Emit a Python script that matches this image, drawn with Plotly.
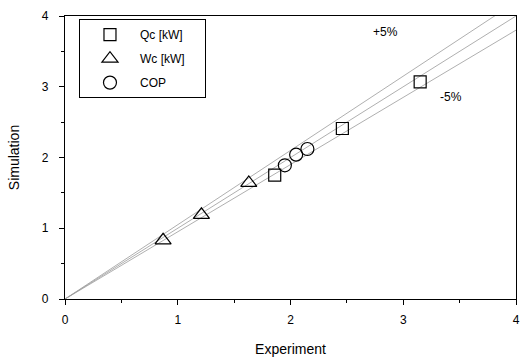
import plotly.graph_objects as go

# Data
qc_exp = [1.86, 2.46, 3.15]
qc_sim = [1.75, 2.41, 3.07]
wc_exp = [0.87, 1.21, 1.63]
wc_sim = [0.83, 1.19, 1.64]
cop_exp = [1.95, 2.05, 2.15]
cop_sim = [1.89, 2.04, 2.12]

line_x = [0, 4]
ratios = [1.05, 1.0, 0.95]

fig = go.Figure()
for r in ratios:
    fig.add_trace(go.Scatter(x=line_x, y=[v * r for v in line_x], mode="lines",
                             line=dict(color="#9a9a9a", width=0.8),
                             showlegend=False, hoverinfo="skip"))

mk = dict(color="black", line=dict(color="black", width=1.2))
fig.add_trace(go.Scatter(x=qc_exp, y=qc_sim, mode="markers", name="Qc [kW]\u00a0\u00a0\u00a0\u00a0\u00a0",
                         legendgroup="a",
                         marker=dict(mk, symbol="square-open", size=12)))
fig.add_trace(go.Scatter(x=wc_exp, y=wc_sim, mode="markers", name="Wc [kW]",
                         legendgroup="b",
                         marker=dict(mk, symbol="triangle-up-open", size=14)))
fig.add_trace(go.Scatter(x=cop_exp, y=cop_sim, mode="markers", name="COP",
                         legendgroup="c",
                         marker=dict(mk, symbol="circle-open", size=13)))

fig.add_annotation(x=2.84, y=3.77, text="+5%", showarrow=False,
                   font=dict(size=12, color="black"))
fig.add_annotation(x=3.42, y=2.86, text="-5%", showarrow=False,
                   font=dict(size=12, color="black"))

axis_common = dict(range=[0, 4], dtick=1, showline=True, linecolor="black",
                   linewidth=1.2, mirror=True, ticks="outside", ticklen=5,
                   tickcolor="black", showgrid=False, zeroline=False,
                   automargin=False,
                   minor=dict(dtick=0.5, ticks="outside", ticklen=3, tickcolor="black"),
                   tickfont=dict(size=12, color="black"))

fig.update_layout(
    width=527, height=363,
    margin=dict(l=65, r=11, t=16, b=64),
    paper_bgcolor="white", plot_bgcolor="white",
    font=dict(family="Liberation Sans, Arial, sans-serif", size=12, color="black"),
    xaxis=dict(axis_common, ticklabelstandoff=4,
               title=dict(text="Experiment", standoff=18)),
    yaxis=dict(axis_common, ticklabelstandoff=8,
               title=dict(text="Simulation", standoff=18)),
    legend=dict(x=0.031, y=0.989, xanchor="left", yanchor="top",
                bordercolor="black", borderwidth=1, bgcolor="white",
                traceorder="grouped",
                font=dict(size=12), itemwidth=50, tracegroupgap=5),
)

fig.write_html("out.html")
